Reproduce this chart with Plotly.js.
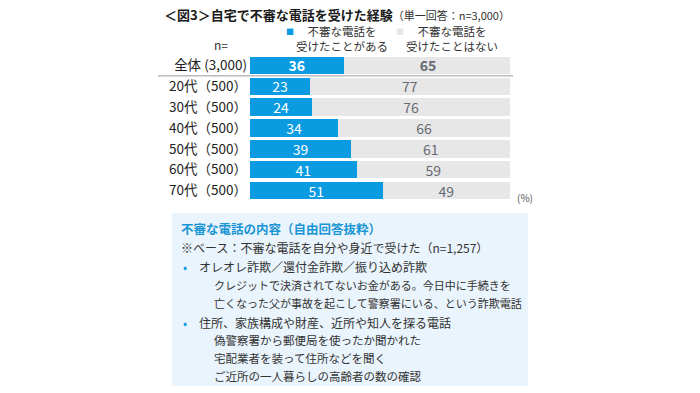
<!DOCTYPE html>
<html>
<head>
<meta charset="utf-8">
<script src="https://cdn.plot.ly/plotly-3.0.1.min.js"></script>
<style>html,body{margin:0;padding:0;background:#fff;}#chart{width:700px;height:393px;}</style>
</head>
<body>
<div id="chart"></div>
<script>
// ---- data ----
var categories = ["全体 (3,000)", "20代（500）", "30代（500）", "40代（500）", "50代（500）", "60代（500）", "70代（500）"];
var received = [36, 23, 24, 34, 39, 41, 51];
var notReceived = [65, 77, 76, 66, 61, 59, 49];
var seriesNames = ["不審な電話を<br>受けたことがある", "不審な電話を<br>受けたことはない"];
var noteTitle = "不審な電話の内容（自由回答抜粋）";
var noteBase = "※ベース：不審な電話を自分や身近で受けた（n=1,257）";
var noteBullets = ["オレオレ詐欺／還付金詐欺／振り込め詐欺", "住所、家族構成や財産、近所や知人を探る電話"];
var noteLines1 = ["クレジットで決済されてないお金がある。今日中に手続きを", "亡くなった父が事故を起こして警察署にいる、という詐欺電話"];
var noteLines2 = ["偽警察署から郵便局を使ったか聞かれた", "宅配業者を装って住所などを聞く", "ご近所の一人暮らしの高齢者の数の確認"];

// ---- layout helpers (pixel -> paper) ----
var L = 250, R = 510, T = 55, B = 201;
function px(x) { return (x - L) / (R - L); }
function py(y) { return (B - y) / (B - T); }
var FONT = "'Noto Sans CJK JP', 'Noto Sans', sans-serif";
var BLUE = "#0a9be0";

function boldFirst(arr) { return arr.map(function (v, i) { return i === 0 ? "<b>" + v + "</b>" : String(v); }); }

var traces = [
  {
    type: "bar", orientation: "h", y: categories, x: received, name: seriesNames[0],
    marker: { color: BLUE }, text: boldFirst(received), textposition: "inside", textangle: 0,
    insidetextanchor: "middle", textfont: { color: "#ffffff", size: 14, family: FONT },
    constraintext: "none", hoverinfo: "x+y"
  },
  {
    type: "bar", orientation: "h", y: categories, x: notReceived, name: seriesNames[1],
    marker: { color: "#e7e7e7" }, text: boldFirst(notReceived), textposition: "inside", textangle: 0,
    insidetextanchor: "middle", textfont: { color: "#666b73", size: 14, family: FONT },
    constraintext: "none", hoverinfo: "x+y"
  }
];

var annotations = [];
function ann(text, x, y, size, opts) {
  var a = { text: text, xref: "paper", yref: "paper", x: px(x), y: py(y), xanchor: "left", yanchor: "middle",
    showarrow: false, font: { family: FONT, size: size, color: "#333333" } };
  for (var k in opts) a[k] = opts[k];
  annotations.push(a);
}
// legend
ann("■", 284, 31, 8, { font: { family: FONT, size: 8, color: BLUE } });
ann(seriesNames[0], 294, 38, 11.5);
ann("■", 394, 31, 8, { font: { family: FONT, size: 8, color: "#e7e7e7" } });
ann(seriesNames[1], 404, 38, 11.5);
ann("n=", 221, 45, 12, { xanchor: "center" });
ann("(%)", 515, 197, 10, { font: { family: FONT, size: 10, color: "#555" } });
// note box
ann("<b>" + noteTitle + "</b>", 179, 228, 12.5, { font: { family: FONT, size: 12.5, color: "#1a96d4" } });
ann(noteBase, 179, 247, 12);
ann("•", 181, 266, 12, { font: { family: FONT, size: 12, color: BLUE } });
ann(noteBullets[0], 197, 266, 12);
ann(noteLines1[0], 212, 285, 11);
ann(noteLines1[1], 212, 303, 11);
ann("•", 181, 322, 12, { font: { family: FONT, size: 12, color: BLUE } });
ann(noteBullets[1], 197, 322, 12);
ann(noteLines2[0], 212, 340, 11.5);
ann(noteLines2[1], 212, 358, 11.5);
ann(noteLines2[2], 212, 376, 11.5);

var layout = {
  width: 700, height: 393,
  margin: { l: L, r: 700 - R, t: T, b: 393 - B, pad: 0 },
  paper_bgcolor: "#ffffff", plot_bgcolor: "#ffffff",
  barmode: "stack", bargap: 0.17, showlegend: false,
  font: { family: FONT, color: "#222" },
  title: {
    text: "<b>＜図3＞自宅で不審な電話を受けた経験</b><span style='font-size:11px;color:#333'>（単一回答：n=3,000）</span>",
    x: 164 / 700, xanchor: "left", xref: "container", y: 1 - 15 / 393, yanchor: "middle", yref: "container",
    font: { family: FONT, size: 13, color: "#1a1a1a" }
  },
  xaxis: { range: [0, 100], visible: false, fixedrange: true },
  yaxis: {
    autorange: "reversed", showgrid: false, zeroline: false, showline: false, ticks: "",
    ticklabelstandoff: 2, tickfont: { family: FONT, size: 13.5, color: "#222" }, fixedrange: true
  },
  shapes: [
    { type: "rect", xref: "paper", yref: "paper", x0: px(172), x1: px(528), y0: py(213), y1: py(386),
      fillcolor: "#eaf4fc", line: { width: 0 }, layer: "below" },
    { type: "line", xref: "paper", yref: "y", x0: px(158), x1: px(513), y0: 0.5, y1: 0.5,
      line: { color: "#9a9a9a", width: 1 } }
  ],
  annotations: annotations
};

Plotly.newPlot("chart", traces, layout, { displayModeBar: false, staticPlot: true });
</script>
</body>
</html>
